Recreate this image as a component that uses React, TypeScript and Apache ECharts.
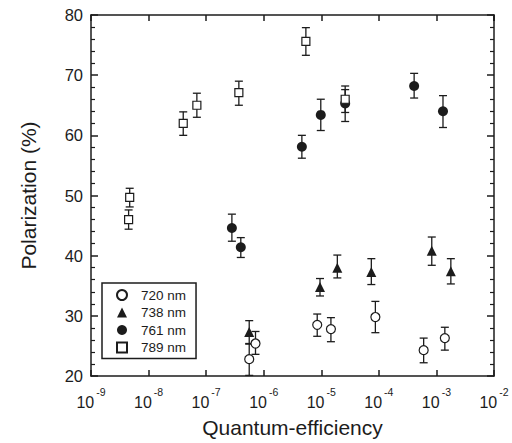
import React, { useEffect, useRef } from "react";
import * as echarts from "echarts";

// ---- data ----
const xTickExps = [-9, -8, -7, -6, -5, -4, -3, -2];
const yTicks = [20, 30, 40, 50, 60, 70, 80];

const names = ["720 nm", "738 nm", "761 nm", "789 nm"];

const x720 = [5.6e-7, 7.2e-7, 8.5e-6, 1.47e-5, 8.7e-5, 6.0e-4, 1.4e-3];
const y720 = [22.8, 25.4, 28.5, 27.8, 29.8, 24.3, 26.3];
const lo720 = [20.1, 23.6, 26.6, 25.7, 27.2, 22.2, 24.3];
const hi720 = [25.4, 27.4, 30.3, 29.7, 32.4, 26.3, 28.1];

const x738 = [5.6e-7, 9.5e-6, 1.9e-5, 7.4e-5, 8.3e-4, 1.78e-3];
const y738 = [27.3, 34.8, 38.0, 37.3, 40.8, 37.4];
const lo738 = [25.3, 33.3, 36.3, 35.2, 38.4, 35.3];
const hi738 = [29.2, 36.2, 40.1, 39.5, 43.1, 39.5];

const x761 = [2.8e-7, 4.0e-7, 4.6e-6, 9.8e-6, 2.6e-5, 4.1e-4, 1.3e-3];
const y761 = [44.6, 41.4, 58.1, 63.4, 65.3, 68.2, 64.0];
const lo761 = [42.4, 39.7, 56.2, 60.8, 63.8, 66.2, 61.3];
const hi761 = [46.9, 43.0, 60.0, 66.0, 67.6, 70.3, 66.6];

const x789 = [4.5e-9, 4.7e-9, 4.0e-8, 6.9e-8, 3.7e-7, 5.4e-6, 2.6e-5];
const y789 = [46.0, 49.7, 62.0, 65.0, 67.1, 75.6, 66.0];
const lo789 = [44.4, 48.1, 60.0, 63.0, 65.0, 73.3, 62.3];
const hi789 = [47.6, 51.2, 63.9, 67.0, 69.0, 77.9, 68.2];

const FONT = "'Liberation Sans', Arial, Helvetica, sans-serif";
const INK = "#1c1c1c";

function pts(xs: number[], ys: number[]) {
  return xs.map((x, i) => [x, ys[i]]);
}
function errs(xs: number[], lo: number[], hi: number[]) {
  return xs.map((x, i) => [x, lo[i], hi[i]]);
}

function errorSeries(data: number[][]) {
  return {
    type: "custom",
    xAxisIndex: 0,
    yAxisIndex: 0,
    z: 1,
    silent: true,
    data,
    renderItem: (params: any, api: any) => {
      const x = api.value(0);
      const p1 = api.coord([x, api.value(1)]);
      const p2 = api.coord([x, api.value(2)]);
      const w = 4;
      const style = { stroke: INK, lineWidth: 1.3 };
      return {
        type: "group",
        children: [
          { type: "line", shape: { x1: p1[0], y1: p1[1], x2: p2[0], y2: p2[1] }, style },
          { type: "line", shape: { x1: p1[0] - w, y1: p1[1], x2: p1[0] + w, y2: p1[1] }, style },
          { type: "line", shape: { x1: p2[0] - w, y1: p2[1], x2: p2[0] + w, y2: p2[1] }, style },
        ],
      };
    },
  };
}

export default function App() {
  const ref = useRef<HTMLDivElement>(null);
  useEffect(() => {
    if (!ref.current) return;
    const chart = echarts.init(ref.current, null, { renderer: "svg" });
    const axisLine = { show: true, lineStyle: { color: INK, width: 1.5 } };
    const option: any = {
      animation: false,
      backgroundColor: "#ffffff",
      textStyle: { fontFamily: FONT, color: INK },
      grid: { left: 91, top: 15, right: 18, bottom: 64, containLabel: false },
      legend: {
        orient: "vertical",
        left: 102,
        top: 283,
        padding: [5, 10, 4, 14],
        borderColor: INK,
        borderWidth: 1.5,
        itemWidth: 10,
        itemHeight: 10,
        itemGap: 3.5,
        data: names,
        textStyle: { fontFamily: FONT, fontSize: 13.5, color: INK, lineHeight: 14, padding: [0, 0, 0, 9] },
      },
      xAxis: [
        {
          type: "log",
          logBase: 10,
          min: 1e-9,
          max: 1e-2,
          position: "bottom",
          axisLine,
          axisTick: { show: true, inside: true, length: 6, lineStyle: { color: INK, width: 1.5 } },
          minorTick: { show: false },
          splitLine: { show: false },
          axisLabel: {
            margin: 10,
            fontSize: 16,
            fontFamily: FONT,
            color: INK,
            formatter: (v: number) => {
              const e = Math.round(Math.log10(v));
              const exp = xTickExps.find((t) => t === e);
              return "{base|10}{sup|" + exp + "}";
            },
            rich: {
              base: { fontSize: 16, fontFamily: FONT, color: INK, lineHeight: 24, verticalAlign: "bottom" },
              sup: { fontSize: 10.5, fontFamily: FONT, color: INK, lineHeight: 10, verticalAlign: "top", padding: [0, 0, 0, 2] },
            },
          },
          name: "Quantum-efficiency",
          nameLocation: "middle",
          nameGap: 41,
          nameTextStyle: { fontSize: 21, fontFamily: FONT, color: INK },
        },
        {
          type: "log",
          logBase: 10,
          min: 1e-9,
          max: 1e-2,
          position: "top",
          axisLine,
          axisTick: { show: true, inside: true, length: 6, lineStyle: { color: INK, width: 1.5 } },
          axisLabel: { show: false },
          splitLine: { show: false },
        },
      ],
      yAxis: [
        {
          type: "value",
          min: yTicks[0],
          max: yTicks[yTicks.length - 1],
          interval: 10,
          position: "left",
          axisLine,
          axisTick: { show: true, inside: true, length: 7, lineStyle: { color: INK, width: 1.5 } },
          minorTick: { show: true, splitNumber: 5, length: 4, lineStyle: { color: INK, width: 1.2 } },
          splitLine: { show: false },
          axisLabel: { fontSize: 16.5, fontFamily: FONT, color: INK, margin: 8 },
          name: "Polarization (%)",
          nameLocation: "middle",
          nameGap: 52,
          nameTextStyle: { fontSize: 21, fontFamily: FONT, color: INK },
        },
        {
          type: "value",
          min: yTicks[0],
          max: yTicks[yTicks.length - 1],
          interval: 10,
          position: "right",
          axisLine,
          axisTick: { show: true, inside: true, length: 7, lineStyle: { color: INK, width: 1.5 } },
          minorTick: { show: true, splitNumber: 5, length: 4, lineStyle: { color: INK, width: 1.2 } },
          splitLine: { show: false },
          axisLabel: { show: false },
        },
      ],
      series: [
        errorSeries(errs(x720, lo720, hi720)),
        errorSeries(errs(x738, lo738, hi738)),
        errorSeries(errs(x761, lo761, hi761)),
        errorSeries(errs(x789, lo789, hi789)),
        {
          name: names[0],
          type: "scatter",
          z: 3,
          symbol: "circle",
          symbolSize: 9,
          itemStyle: { color: "#ffffff", borderColor: INK, borderWidth: 1.2, opacity: 1 },
          data: pts(x720, y720),
        },
        {
          name: names[1],
          type: "scatter",
          z: 3,
          symbol: "triangle",
          symbolSize: 10,
          itemStyle: { color: INK, opacity: 1 },
          data: pts(x738, y738),
        },
        {
          name: names[2],
          type: "scatter",
          z: 3,
          symbol: "circle",
          symbolSize: 10,
          itemStyle: { color: INK, opacity: 1 },
          data: pts(x761, y761),
        },
        {
          name: names[3],
          type: "scatter",
          z: 3,
          symbol: "rect",
          symbolSize: 8,
          itemStyle: { color: "#ffffff", borderColor: INK, borderWidth: 1.2, opacity: 1 },
          data: pts(x789, y789),
        },
      ],
    };
    chart.setOption(option);
    return () => chart.dispose();
  }, []);
  return (
    <div
      ref={ref}
      style={{ position: "fixed", left: 0, top: 0, width: 512, height: 443, background: "#fff" }}
    />
  );
}
